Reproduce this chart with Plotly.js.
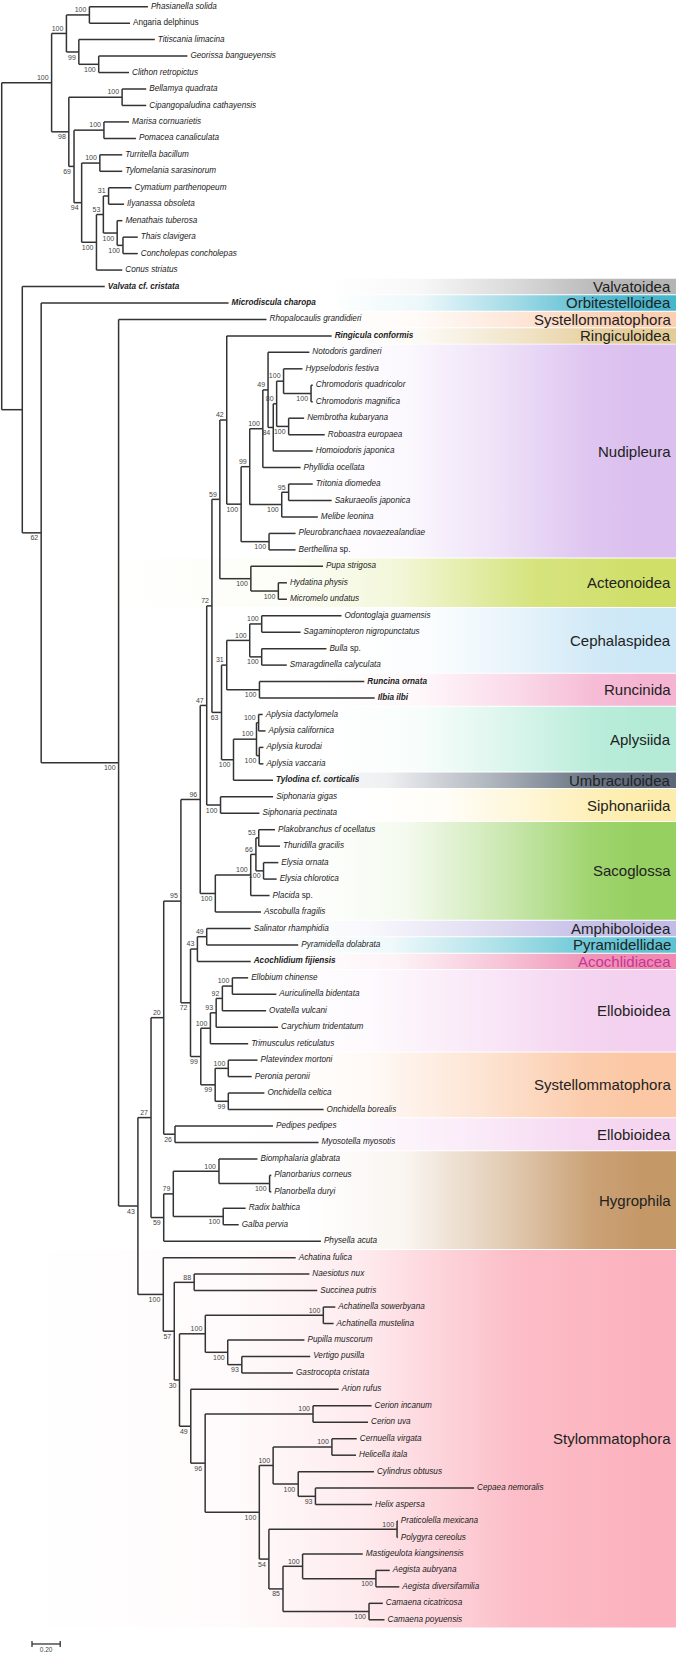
<!DOCTYPE html>
<html><head><meta charset="utf-8">
<script src="https://cdn.plot.ly/plotly-3.0.1.min.js"></script>
<style>html,body{margin:0;padding:0;background:#fff}</style>
</head><body><div id="chart" style="width:678px;height:1656px"></div>
<script>
// ---------------- DATA: tree (Newick pieces, branch lengths in substitutions/site, bootstrap supports) -------------
const outgroup = "(((Phasianella_solida:0.415,Angaria_delphinus:0.288)100:0.163,(Titiscania_limacina:0.539,(Georissa_bangueyensis:0.629,Clithon_retropictus:0.215)100:0.141)99:0.088)100:0.105,((Bellamya_quadrata:0.171,Cipangopaludina_cathayensis:0.171)100:0.378,((Marisa_cornuarietis:0.178,Pomacea_canaliculata:0.227)100:0.212,((Turritella_bacillum:0.159,Tylomelania_sarasinorum:0.159)100:0.129,(((Cymatium_parthenopeum:0.163,Ilyanassa_obsoleta:0.110)31:0.037,(Menathais_tuberosa:0.037,(Thais_clavigera:0.105,Concholepas_concholepas:0.105)100:0.041)100:0.098)53:0.049,Conus_striatus:0.183)100:0.105)94:0.054)69:0.037)98:0.122)100:0.354";
const chromodorid = "(Hypselodoris_festiva:0.134,(Chromodoris_quadricolor:0.012,Chromodoris_magnifica:0.012)100:0.195)100:0.049";
const polycerid = "(Nembrotha_kubaryana:0.110,Roboastra_europaea:0.256)100:0.085";
const doridina = `((Notodoris_gardineri:0.293,((${chromodorid},${polycerid})80:0.024,Homoiodoris_japonica:0.280)84:0.037)49:0.037,Phyllidia_ocellata:0.268)100:0.093`;
const cladobranchia = "((Tritonia_diomedea:0.171,Sakuraeolis_japonica:0.305)95:0.049,Melibe_leonina:0.256)100:0.227";
const pleurobranch = "(Pleurobranchaea_novaezealandiae:0.188,Berthellina_sp.:0.188)100:0.198";
const nudipleura = `((${doridina},${cladobranchia})99:0.061,${pleurobranch})100:0.102`;
const acteonoidea = "(Pupa_strigosa:0.512,(Hydatina_physis:0.061,Micromelo_undatus:0.061)100:0.195)100:0.220";
const cephalaspidea = "((Odontoglaja_guamensis:0.566,Sagaminopteron_nigropunctatus:0.276)100:0.085,(Bulla_sp.:0.459,Smaragdinella_calyculata:0.178)100:0.085)100:0.163";
const runcinida = "(Runcina_ornata:0.744,Ilbia_ilbi:0.817)100:0.232";
const aplysiida = "((Aplysia_dactylomela:0.029,Aplysia_californica:0.049)100:0.015,(Aplysia_kurodai:0.029,Aplysia_vaccaria:0.029)100:0.020)100:0.163";
const euopisthobranchia = `(((Ringicula_conformis:0.744,${nudipleura})42:0.049,${acteonoidea})59:0.056,((${cephalaspidea},${runcinida})31:0.037,(${aplysiida},Tylodina_cf._corticalis:0.280)100:0.085)63:0.068)72:0.037`;
const siphonariida = "(Siphonaria_gigas:0.373,Siphonaria_pectinata:0.276)100:0.098";
const sacoglossa = "((((Plakobranchus_cf_ocellatus:0.115,Thuridilla_gracilis:0.151)53:0.020,(Elysia_ornata:0.105,Elysia_chlorotica:0.093)100:0.054)66:0.037,Placida_sp.:0.134)100:0.251,Ascobulla_fragilis:0.324)100:0.107";
const pyramidAcochlidia = "((Salinator_rhamphidia:0.312,Pyramidella_dolabrata:0.649)49:0.066,Acochlidium_fijiensis:0.378)43:0.049";
const ellobioidea = "((((Ellobium_chinense:0.112,Auriculinella_bidentata:0.312)100:0.071,Ovatella_vulcani:0.310)92:0.044,Carychium_tridentatum:0.439)93:0.041,Trimusculus_reticulatus:0.268)100:0.068";
const systellommatophora = "((Platevindex_mortoni:0.207,Peronia_peronii:0.166)100:0.093,(Onchidella_celtica:0.256,Onchidella_borealis:0.676)99:0.093)99:0.102";
const ellobioidea2 = "(Pedipes_pedipes:0.695,Myosotella_myosotis:1.018)26:0.080";
const hygrophila = "(((Biomphalaria_glabrata:0.273,(Planorbarius_corneus:0.012,Planorbella_duryi:0.012)100:0.359)100:0.324,(Radix_balthica:0.159,Galba_pervia:0.110)100:0.354)79:0.068,Physella_acuta:1.115)59:0.090";
const orthurethra = "((Achatinella_sowerbyana:0.085,Achatinella_mustelina:0.073)100:0.837,(Pupilla_muscorum:0.544,(Vertigo_pusilla:0.485,Gastrocopta_cristata:0.363)93:0.100)100:0.159)100:0.183";
const helicoidea = "((Cernuella_virgata:0.176,Helicella_itala:0.171)100:0.417,(Cylindrus_obtusus:0.537,(Cepaea_nemoralis:1.125,Helix_aspersa:0.402)93:0.122)100:0.178)100:0.098";
const camaenidae = "((Praticolella_mexicana:0.005,Polygyra_cereolus:0.005)100:0.909,((Mastigeulota_kiangsinensis:0.427,(Aegista_aubryana:0.098,Aegista_diversifamilia:0.166)100:0.520)100:0.139,(Camaena_cicatricosa:0.098,Camaena_poyuensis:0.110)100:0.610)85:0.100)54:0.068";
const stylommatophora = `(Achatina_fulica:0.939,((Naesiotus_nux:0.817,Succinea_putris:0.873)88:0.141,(${orthurethra},(Arion_rufus:1.049,((Cerion_incanum:0.415,Cerion_uva:0.390)100:0.765,(${helicoidea},${camaenidae})100:0.384)96:0.102)49:0.080)30:0.037)57:0.078)100:0.180`;
const panpulmonata = `((((((${euopisthobranchia},${siphonariida})47:0.046,${sacoglossa})96:0.137,(${pyramidAcochlidia},(${ellobioidea},${systellommatophora})99:0.073)72:0.068)95:0.122,${ellobioidea2})20:0.090,${hygrophila})27:0.093,${stylommatophora})43:0.137`;
const heterobranchia = `(Valvata_cf._cristata:0.585,(Microdiscula_charopa:1.329,(Rhopalocaulis_grandidieri:1.049,${panpulmonata})100:0.549)62:0.134):0.146`;
const treeNewick = `(${outgroup},${heterobranchia});`;

const boldTaxa = ['Valvata cf. cristata','Microdiscula charopa','Ringicula conformis','Runcina ornata','Ilbia ilbi','Tylodina cf. corticalis','Acochlidium fijiensis'];
const uprightTaxa = ['Angaria delphinus'];

// clade bands
const bandNames = ['Valvatoidea','Orbitestelloidea','Systellommatophora','Ringiculoidea','Nudipleura','Acteonoidea','Cephalaspidea','Runcinida','Aplysiida','Umbraculoidea','Siphonariida','Sacoglossa','Amphiboloidea','Pyramidellidae','Acochlidiacea','Ellobioidea','Systellommatophora','Ellobioidea','Hygrophila','Stylommatophora'];
const bandFirst = ['Valvata cf. cristata','Microdiscula charopa','Rhopalocaulis grandidieri','Ringicula conformis','Notodoris gardineri','Pupa strigosa','Odontoglaja guamensis','Runcina ornata','Aplysia dactylomela','Tylodina cf. corticalis','Siphonaria gigas','Plakobranchus cf ocellatus','Salinator rhamphidia','Pyramidella dolabrata','Acochlidium fijiensis','Ellobium chinense','Platevindex mortoni','Pedipes pedipes','Biomphalaria glabrata','Achatina fulica'];
const bandLast = ['Valvata cf. cristata','Microdiscula charopa','Rhopalocaulis grandidieri','Ringicula conformis','Berthellina sp.','Micromelo undatus','Smaragdinella calyculata','Ilbia ilbi','Aplysia vaccaria','Tylodina cf. corticalis','Siphonaria pectinata','Ascobulla fragilis','Salinator rhamphidia','Pyramidella dolabrata','Acochlidium fijiensis','Trimusculus reticulatus','Onchidella borealis','Myosotella myosotis','Physella acuta','Camaena poyuensis'];
const bandColors = ['#b4b4b4','#46b6cd','#fccfb3','#e4cc97','#dbbfef','#cfdf68','#cce7f6','#f5b5d2','#b3ebd7','#5b6878','#fdedad','#96d060','#c2bce6','#5dc3d3','#ef8ab0','#f3d0ef','#fbc7a4','#f5d5f0','#c59868','#fbb2be'];
const bandFade = [2.3,2.3,2.3,2.3,2.15,0.7,2.45,2.3,2.3,1.95,2.55,2.15,1.75,2.0,2.05,1.75,1.8,1.65,2.15,0.11];
const bandTextColors = ['#222','#222','#222','#222','#222','#222','#222','#222','#222','#222','#222','#222','#222','#222','#c8359a','#222','#222','#222','#222','#222'];
const scaleBarValue = 0.2;
const scaleBarLabel = '0.20';

// ---------------- parsing & layout ----------------
function parseNewick(str){
  const s = str.replace(/\s+/g,'');
  let i = 0;
  function readNode(){
    const n = {children:[], name:'', support:'', len:0};
    if (s[i] === '('){
      i++;
      n.children.push(readNode());
      while (s[i] === ','){ i++; n.children.push(readNode()); }
      i++;
    }
    let st = i;
    while (i < s.length && ',():;'.indexOf(s[i]) < 0) i++;
    const lab = s.slice(st, i);
    if (n.children.length) n.support = lab; else n.name = lab.replace(/_/g,' ');
    if (s[i] === ':'){
      i++; st = i;
      while (i < s.length && ',();'.indexOf(s[i]) < 0) i++;
      n.len = parseFloat(s.slice(st, i));
    }
    return n;
  }
  return readNode();
}
const root = parseNewick(treeNewick);
const leaves = [];
const internals = [];
function place(n, px, parent){
  n.x = parent ? px + n.len : 0;
  n.parent = parent;
  if (!n.children.length){ n.y = leaves.length; leaves.push(n); }
  else {
    n.children.forEach((c,k)=>{ c.rank = k; place(c, n.x, n); });
    n.y = (n.children[0].y + n.children[n.children.length-1].y)/2;
    internals.push(n);
  }
}
place(root, 0, null);

const PX = 141;              // px per unit along x
const X0 = 1.7;
const xRange = [-X0/PX, (678 - X0)/PX];
const ROW = 16.46;
const yTop = -6.7/ROW;
const yRange = [yTop + 1656/ROW, yTop];

// branches
const bx = [], by = [];
function walk(n){
  if (n.parent){ bx.push(n.parent.x, n.x, null); by.push(n.y, n.y, null); }
  if (n.children.length){
    const a = n.children[0], b = n.children[n.children.length-1];
    bx.push(n.x, n.x, null); by.push(a.y, b.y, null);
    n.children.forEach(walk);
  }
}
walk(root);

const FONT = 'Liberation Sans, Arial, sans-serif';
function fmt(name){
  let t;
  if (uprightTaxa.includes(name)) t = name;
  else if (/ sp\.$/.test(name)) t = '<i>' + name.replace(/ sp\.$/,'') + '</i> sp.';
  else t = '<i>' + name + '</i>';
  if (boldTaxa.includes(name)) t = '<b>' + t + '</b>';
  return t;
}

const traces = [];
const leafIndex = {}; leaves.forEach(l => leafIndex[l.name] = l.y);
const bandRight = (676 - X0)/PX;
function rgba(hex, a){
  const r = parseInt(hex.slice(1,3),16), g = parseInt(hex.slice(3,5),16), b = parseInt(hex.slice(5,7),16);
  return `rgba(${r},${g},${b},${a})`;
}
const annotations = [];
bandNames.forEach((nm, k) => {
  const y0 = leafIndex[bandFirst[k]] - 0.5 + 0.03, y1 = leafIndex[bandLast[k]] + 0.5 - 0.03;
  const x0 = bandFade[k], c = bandColors[k];
  const stops = x0 < 1
    ? [[0, rgba(c,0)],[0.35, rgba(c,0.06)],[0.55, rgba(c,0.25)],[0.8, rgba(c,0.85)],[1, rgba(c,1)]]
    : [[0, rgba(c,0)],[0.3, rgba(c,0.1)],[0.6, rgba(c,0.5)],[0.85, rgba(c,0.9)],[1, rgba(c,1)]];
  traces.push({
    type:'scatter', mode:'lines', x:[x0, bandRight, bandRight, x0, x0], y:[y0, y0, y1, y1, y0],
    fill:'toself', line:{width:0}, hoverinfo:'skip',
    fillgradient:{type:'horizontal', start:x0, stop:bandRight - 0.25, colorscale:stops}
  });
  annotations.push({x: bandRight - 3/PX, y:(y0+y1)/2, xref:'x', yref:'y', text:nm, showarrow:false,
    xanchor:'right', yanchor:'middle', font:{family:FONT, size:15, color:bandTextColors[k]}});
});

traces.push({type:'scatter', mode:'lines', x:bx, y:by, line:{color:'#333', width:1.5}, hoverinfo:'skip'});

traces.push({type:'scatter', mode:'text', x:leaves.map(l => l.x + 3/PX), y:leaves.map(l => l.y),
  text:leaves.map(l => fmt(l.name)), textposition:'middle right',
  textfont:{family:FONT, size:8.2, color:'#222'}, hoverinfo:'skip', cliponaxis:false});

const sup = internals.filter(n => n.parent && n.support);
traces.push({type:'scatter', mode:'text',
  x:sup.map(n => n.x - 3/PX),
  y:sup.map(n => n.rank === 0 ? n.y - 0.06 : n.y + 0.14),
  text:sup.map(n => n.support),
  textposition:sup.map(n => n.rank === 0 ? 'top left' : 'bottom left'),
  textfont:{family:FONT, size:7, color:'#444'}, hoverinfo:'skip', cliponaxis:false});

// scale bar
const sbX0 = (32 - X0)/PX, sbY = 99.47;
traces.push({type:'scatter', mode:'lines', x:[sbX0, sbX0+scaleBarValue, null, sbX0, sbX0, null, sbX0+scaleBarValue, sbX0+scaleBarValue],
  y:[sbY, sbY, null, sbY-0.18, sbY+0.18, null, sbY-0.18, sbY+0.18], line:{color:'#333', width:1.3}, hoverinfo:'skip'});
traces.push({type:'scatter', mode:'text', x:[sbX0+scaleBarValue/2], y:[sbY+0.2], text:[scaleBarLabel],
  textposition:'bottom center', textfont:{family:FONT, size:6.5, color:'#444'}, hoverinfo:'skip', cliponaxis:false});

Plotly.newPlot('chart', traces, {
  width:678, height:1656, margin:{l:0,r:0,t:0,b:0}, showlegend:false,
  paper_bgcolor:'#fff', plot_bgcolor:'#fff',
  xaxis:{range:xRange, visible:false, fixedrange:true},
  yaxis:{range:yRange, visible:false, fixedrange:true},
  annotations:annotations
}, {staticPlot:true});
</script>
</body></html>
